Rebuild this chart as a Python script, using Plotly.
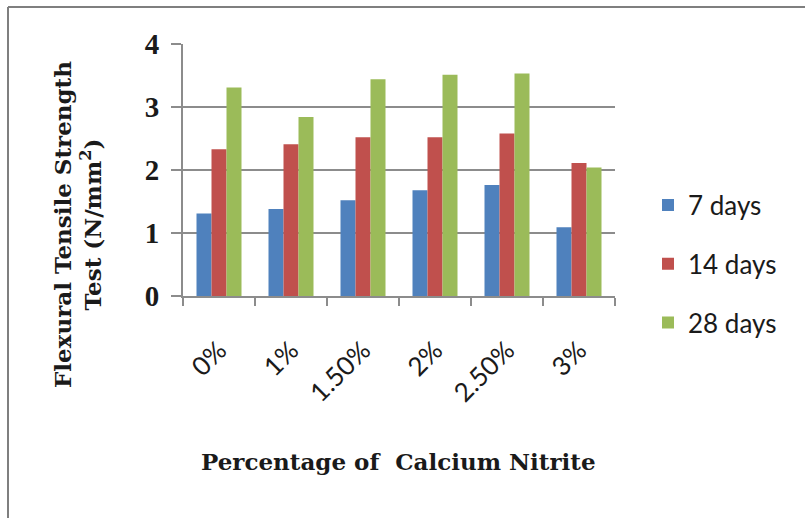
import plotly.graph_objects as go

# Flexural tensile strength by calcium nitrite dosage and curing age
categories = ["0%", "1%", "1.50%", "2%", "2.50%", "3%"]
days_7 = [1.31, 1.38, 1.52, 1.68, 1.76, 1.09]
days_14 = [2.33, 2.41, 2.52, 2.52, 2.58, 2.11]
days_28 = [3.31, 2.84, 3.44, 3.51, 3.53, 2.04]
series_names = ["7 days", "14 days", "28 days"]
series_colors = ["#4F81BD", "#C0504D", "#9BBB59"]

W, H = 805, 518
ML, MR, MT, MB = 183, 190, 44, 222
PW, PH = W - ML - MR, H - MT - MB


def px_x(p):
    return (p - ML) / PW


def px_y(p):
    return (H - MB - p) / PH


fig = go.Figure()
for i, (name, vals) in enumerate(zip(series_names, [days_7, days_14, days_28])):
    fig.add_trace(go.Bar(
        x=categories, y=vals, name=name,
        marker=dict(color=series_colors[i], line=dict(width=0)),
        legendgroup=name,
    ))

serif_bold = "Liberation Serif"
wide_serif = "DejaVu Serif"
sans = "Lato, 'Open Sans', sans-serif"

fig.update_layout(
    width=W, height=H,
    margin=dict(l=ML, r=MR, t=MT, b=MB, autoexpand=False),
    paper_bgcolor="white", plot_bgcolor="white",
    barmode="group", bargap=0.375, bargroupgap=0,
    showlegend=True,
    legend=dict(
        x=px_x(648), xanchor="left", y=px_y(264), yanchor="middle",
        font=dict(family=sans, size=26, color="#1a1a1a"),
        tracegroupgap=22, itemsizing="constant",
        bgcolor="rgba(0,0,0,0)",
    ),
    xaxis=dict(
        type="category", showgrid=False,
        showline=True, linecolor="#8c8c8c", linewidth=2,
        ticks="outside", tickson="boundaries", ticklen=8, tickcolor="#8c8c8c", tickwidth=2,
        tickangle=-45, ticklabelstandoff=27,
        tickfont=dict(family=sans, size=26, color="#1a1a1a"),
    ),
    yaxis=dict(
        range=[0, 4], dtick=1, tick0=0,
        showgrid=True, gridcolor="#8c8c8c", gridwidth=2,
        showline=True, linecolor="#8c8c8c", linewidth=2,
        ticks="outside", ticklen=10, tickcolor="#8c8c8c", tickwidth=2,
        zeroline=False, ticklabelstandoff=6,
        tickfont=dict(family=serif_bold, size=29, color="#1a1a1a", weight="bold"),
    ),
    annotations=[
        dict(
            text="<b>Flexural Tensile Strength<br>Test (N/mm<sup>2</sup>)</b>",
            xref="paper", yref="paper", x=px_x(77), y=px_y(225),
            xanchor="center", yanchor="middle", showarrow=False, textangle=-90,
            font=dict(family=wide_serif, size=23, color="#1a1a1a"),
        ),
        dict(
            text="<b>Percentage of  Calcium Nitrite</b>",
            xref="paper", yref="paper", x=px_x(398), y=px_y(462),
            xanchor="center", yanchor="middle", showarrow=False,
            font=dict(family=wide_serif, size=23, color="#1a1a1a"),
        ),
    ],
    shapes=[
        dict(type="line", xref="paper", yref="paper",
             x0=px_x(8), x1=px_x(W + 2), y0=px_y(7), y1=px_y(7),
             line=dict(color="#7f7f7f", width=2)),
        dict(type="line", xref="paper", yref="paper",
             x0=px_x(8), x1=px_x(8), y0=px_y(7), y1=px_y(H + 2),
             line=dict(color="#7f7f7f", width=2)),
    ],
)

fig.write_html("out.html")
